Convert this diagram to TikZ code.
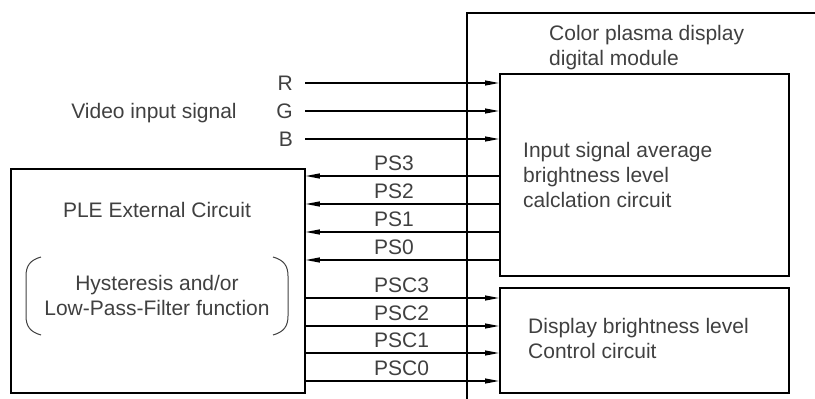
\documentclass[tikz,border=0pt]{standalone}
\usepackage{fontspec}
\setmainfont{Liberation Sans}
\usetikzlibrary{arrows.meta}
\begin{document}
\begin{tikzpicture}[x=1pt,y=-1pt,
  box/.style={draw, line width=1.8pt, inner sep=0pt, anchor=north west},
  txt/.style={font=\fontsize{21}{25}\selectfont, text=black!75, inner sep=0pt},
  sig/.style={line width=1.2pt, -{Triangle[length=14pt,width=5pt]}},
  brk/.style={line width=1pt, draw=black!75}]
\useasboundingbox (0,0) rectangle (815,399);
% boxes
\node[box, minimum width=360pt, minimum height=400pt] (module) at (466,12) {};
\node[box, minimum width=289pt, minimum height=202pt] (calc) at (499,73) {};
\node[box, minimum width=289pt, minimum height=105pt] (ctrl) at (499,287) {};
\node[box, minimum width=294pt, minimum height=224pt] (ple) at (10,168) {};
% texts in boxes
\node[txt, anchor=base west] (mod1) at (549,40) {Color plasma display};
\node[txt, anchor=base west] (mod2) at (549,65) {digital module};
\node[txt, anchor=base west] (cal1) at (523,157) {Input signal average};
\node[txt, anchor=base west] (cal2) at (523,182) {brightness level};
\node[txt, anchor=base west] (cal3) at (523,207) {calclation circuit};
\node[txt, anchor=base west] (ctl1) at (528,333) {Display brightness level};
\node[txt, anchor=base west] (ctl2) at (528,358) {Control circuit};
\node[txt, anchor=base] (ple1) at (157,217) {PLE External Circuit};
\node[txt, anchor=base] (hys1) at (157,290) {Hysteresis and/or};
\node[txt, anchor=base] (hys2) at (157,315) {Low-Pass-Filter function};
\node[txt, anchor=base] (vid) at (154,118) {Video input signal};
% brackets
\draw[brk] (41,257) .. controls (30,260) and (26,266) .. (26,276) -- (26,316) .. controls (26,326) and (30,332) .. (41,335);
\draw[brk] (273,257) .. controls (284,260) and (288,266) .. (288,276) -- (288,316) .. controls (288,326) and (284,332) .. (273,335);
% RGB inputs
\node[txt, anchor=east, inner xsep=12pt] (R) at (305,83) {R};
\node[txt, anchor=east, inner xsep=12pt] (G) at (305,111) {G};
\node[txt, anchor=east, inner xsep=12pt] (B) at (305,139) {B};
\draw[sig] (R.east) -- (R.east -| calc.west);
\draw[sig] (G.east) -- (G.east -| calc.west);
\draw[sig] (B.east) -- (B.east -| calc.west);
% PS outputs
\draw[sig] (calc.west |- 0,176) -- (ple.east |- 0,176);
\draw[sig] (calc.west |- 0,204) -- (ple.east |- 0,204);
\draw[sig] (calc.west |- 0,232) -- (ple.east |- 0,232);
\draw[sig] (calc.west |- 0,260) -- (ple.east |- 0,260);
\node[txt, anchor=base west] (ps3) at (374,170) {PS3};
\node[txt, anchor=base west] (ps2) at (374,198) {PS2};
\node[txt, anchor=base west] (ps1) at (374,226) {PS1};
\node[txt, anchor=base west] (ps0) at (374,254) {PS0};
% PSC inputs
\draw[sig] (ple.east |- 0,298) -- (ctrl.west |- 0,298);
\draw[sig] (ple.east |- 0,326) -- (ctrl.west |- 0,326);
\draw[sig] (ple.east |- 0,353) -- (ctrl.west |- 0,353);
\draw[sig] (ple.east |- 0,381) -- (ctrl.west |- 0,381);
\node[txt, anchor=base west] (psc3) at (374,292) {PSC3};
\node[txt, anchor=base west] (psc2) at (374,320) {PSC2};
\node[txt, anchor=base west] (psc1) at (374,347) {PSC1};
\node[txt, anchor=base west] (psc0) at (374,375) {PSC0};
\end{tikzpicture}
\end{document}
